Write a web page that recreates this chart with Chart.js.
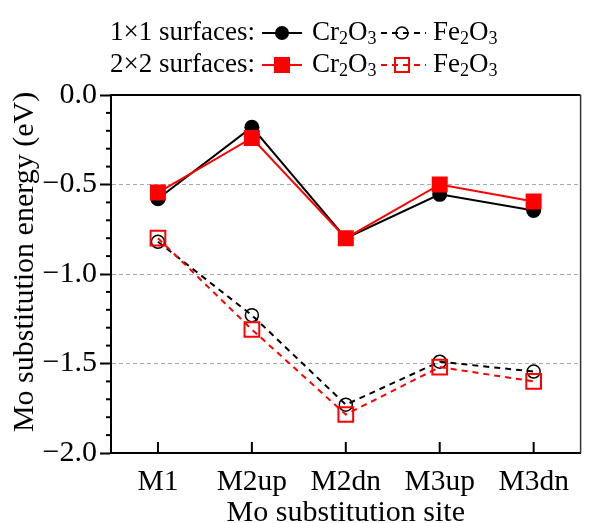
<!DOCTYPE html>
<html>
<head>
<meta charset="utf-8">
<script src="https://cdn.jsdelivr.net/npm/chart.js@4/dist/chart.umd.min.js"></script>
<style>
html, body { margin: 0; padding: 0; background: #fff; }
#wrap { width: 593px; height: 523px; }
</style>
</head>
<body>
<div id="wrap"><canvas id="myChart"></canvas></div>
<script>
// data
const sites = ["M1", "M2up", "M2dn", "M3up", "M3dn"];
const cr1x1 = [-0.58, -0.18, -0.80, -0.555, -0.645];
const fe1x1 = [-0.82, -1.23, -1.73, -1.49, -1.545];
const cr2x2 = [-0.545, -0.24, -0.80, -0.50, -0.595];
const fe2x2 = [-0.80, -1.31, -1.785, -1.52, -1.60];
const majorTicks = [0, -0.5, -1, -1.5, -2];
const gridAt = [-0.5, -1, -1.5];
const rowLabels = ["1\u00d71 surfaces:", "2\u00d72 surfaces:"];
const crName = [["Cr", 0], ["2", 1], ["O", 0], ["3", 1]];
const feName = [["Fe", 0], ["2", 1], ["O", 0], ["3", 1]];
const yTitle = "Mo substitution energy (eV)";

const serif = "'Liberation Serif', 'Times New Roman', serif";
Chart.defaults.font.family = serif;
Chart.defaults.color = '#000';

const isMajor = v => majorTicks.some(m => Math.abs(m - v) < 1e-6);

function drawFormula(ctx, x, y, parts) {
    for (const [txt, sub] of parts) {
        ctx.font = sub ? "18px " + serif : "27px " + serif;
        ctx.fillText(txt, x, sub ? y + 6 : y);
        x += ctx.measureText(txt).width;
    }
}

function marker(ctx, kind, x, y, color) {
    ctx.save();
    ctx.setLineDash([]);
    ctx.strokeStyle = color;
    ctx.fillStyle = color;
    if (kind === 'dot') { ctx.beginPath(); ctx.arc(x, y, 7, 0, Math.PI * 2); ctx.fill(); }
    if (kind === 'ring') { ctx.lineWidth = 1.5; ctx.beginPath(); ctx.arc(x, y, 6, 0, Math.PI * 2); ctx.stroke(); }
    if (kind === 'box') { ctx.fillRect(x - 8, y - 8, 16, 16); }
    if (kind === 'openbox') { ctx.lineWidth = 2; ctx.strokeRect(x - 7, y - 7, 14, 14); }
    ctx.restore();
}

const decor = {
    id: 'decor',
    afterDraw(chart) {
        const ctx = chart.ctx;
        const a = chart.chartArea;
        const y = chart.scales.y, x = chart.scales.x;
        ctx.save();
        // top / right frame
        ctx.strokeStyle = '#000';
        ctx.lineWidth = 2;
        ctx.beginPath(); ctx.moveTo(a.left, a.top); ctx.lineTo(a.right, a.top); ctx.stroke();
        ctx.strokeStyle = '#333';
        ctx.lineWidth = 1.5;
        ctx.beginPath(); ctx.moveTo(a.right, a.top); ctx.lineTo(a.right, a.bottom); ctx.stroke();
        // minor y ticks
        ctx.strokeStyle = '#000';
        ctx.lineWidth = 2;
        y.ticks.forEach(t => {
            if (isMajor(t.value)) return;
            const py = y.getPixelForValue(t.value);
            ctx.beginPath(); ctx.moveTo(a.left - 5, py); ctx.lineTo(a.left, py); ctx.stroke();
        });
        // x ticks, pointing inward
        sites.forEach((s, i) => {
            const px = x.getPixelForValue(i);
            ctx.beginPath(); ctx.moveTo(px, a.bottom); ctx.lineTo(px, a.bottom - 11); ctx.stroke();
        });
        // y title (sits a bit above the axis centre in the original)
        ctx.save();
        ctx.translate(25, 262);
        ctx.rotate(-Math.PI / 2);
        ctx.font = "30px " + serif;
        ctx.fillStyle = '#000';
        ctx.textAlign = 'center';
        ctx.textBaseline = 'middle';
        ctx.fillText(yTitle, 0, 0);
        ctx.restore();
        // legend
        ctx.fillStyle = '#000';
        ctx.textBaseline = 'middle';
        const rows = [
            { y: 33, color: '#000', solid: 'dot', open: 'ring' },
            { y: 65, color: '#f00', solid: 'box', open: 'openbox' }
        ];
        rows.forEach((r, i) => {
            ctx.font = "27px " + serif;
            ctx.textAlign = 'right';
            ctx.fillStyle = '#000';
            ctx.fillText(rowLabels[i], 255, r.y);
            ctx.textAlign = 'left';
            ctx.strokeStyle = r.color;
            ctx.lineWidth = 2;
            ctx.setLineDash([]);
            ctx.beginPath(); ctx.moveTo(262, r.y); ctx.lineTo(302, r.y); ctx.stroke();
            marker(ctx, r.solid, 282, r.y, r.color);
            ctx.fillStyle = '#000';
            drawFormula(ctx, 312, r.y, crName);
            ctx.setLineDash([6, 5]);
            ctx.beginPath(); ctx.moveTo(381, r.y); ctx.lineTo(426, r.y); ctx.stroke();
            ctx.setLineDash([]);
            marker(ctx, r.open, 402, r.y, r.color);
            ctx.fillStyle = '#000';
            drawFormula(ctx, 433, r.y, feName);
        });
        ctx.restore();
    }
};

new Chart(document.getElementById("myChart"), {
    type: 'line',
    data: {
        labels: sites,
        datasets: [
            { label: "2x2 Cr2O3", data: cr2x2, borderColor: '#f00', backgroundColor: '#f00',
              borderWidth: 2, pointStyle: 'rect', pointRadius: 11.3, pointBorderWidth: 0 },
            { label: "2x2 Fe2O3", data: fe2x2, borderColor: '#f00', backgroundColor: 'rgba(0,0,0,0)',
              borderWidth: 2, borderDash: [6, 5], pointStyle: 'rect', pointRadius: 10.4, pointBorderWidth: 2 },
            { label: "1x1 Cr2O3", data: cr1x1, borderColor: '#000', backgroundColor: '#000',
              borderWidth: 2, pointStyle: 'circle', pointRadius: 7.5, pointBorderWidth: 0 },
            { label: "1x1 Fe2O3", data: fe1x1, borderColor: '#000', backgroundColor: 'rgba(0,0,0,0)',
              borderWidth: 2, borderDash: [6, 5], pointStyle: 'circle', pointRadius: 6.5, pointBorderWidth: 1.5 }
        ]
    },
    options: {
        responsive: true,
        maintainAspectRatio: false,
        animation: false,
        layout: { padding: { top: 95, right: 2, left: 0, bottom: 0 } },
        plugins: { legend: { display: false }, tooltip: { enabled: false } },
        scales: {
            x: {
                offset: true,
                grid: { display: false, drawTicks: false },
                border: { display: true, color: '#000', width: 2 },
                ticks: { font: { size: 29.5 }, padding: 12, maxRotation: 0, autoSkip: false },
                title: { display: true, text: "Mo substitution site", font: { size: 30 }, padding: { top: 0, bottom: -8 } },
                afterFit: s => { s.height = 70; }
            },
            y: {
                min: -2, max: 0,
                ticks: {
                    stepSize: 0.1,
                    autoSkip: false,
                    font: { size: 30 },
                    padding: 3,
                    callback: v => isMajor(v) ? (Math.abs(v) < 1e-6 ? "0.0" : "\u2212" + Math.abs(v).toFixed(1)) : ''
                },
                grid: {
                    drawOnChartArea: true,
                    tickLength: 11,
                    lineWidth: 1,
                    color: c => gridAt.some(g => Math.abs(g - c.tick.value) < 1e-6) ? '#aaa' : 'rgba(0,0,0,0)',
                    tickColor: c => isMajor(c.tick.value) ? '#000' : 'rgba(0,0,0,0)',
                    tickWidth: 2
                },
                border: { display: true, color: '#000', width: 2, dash: [4, 3] },
                title: { display: false },
                afterFit: s => { s.width = 111; }
            }
        }
    },
    plugins: [decor]
});
</script>
</body>
</html>
